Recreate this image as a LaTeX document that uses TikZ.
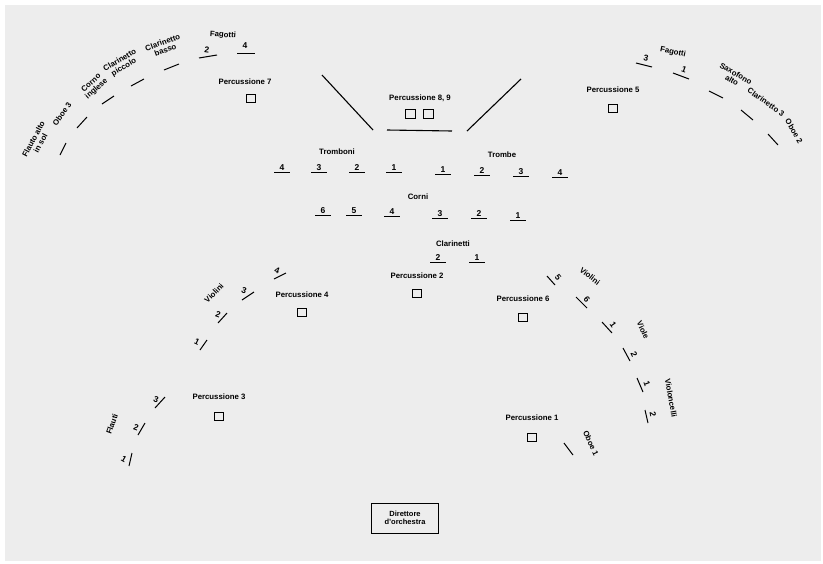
\documentclass[tikz,border=0pt]{standalone}
\usepackage{fontspec}
\setmainfont{Liberation Sans}
\begin{document}
\begin{tikzpicture}[
    x=1pt, y=-1pt,
    seat/.style={line width=1pt},
    lbl/.style={font=\fontsize{7.8}{8}\selectfont\bfseries, inner sep=0pt, align=center},
    num/.style={font=\fontsize{8.5}{9}\selectfont\bfseries, inner sep=0pt},
    perc/.style={draw, line width=0.8pt, minimum width=9pt, minimum height=8pt, inner sep=0pt},
  ]
  \useasboundingbox (0,0) rectangle (823,563);
  \fill[white] (0,0) rectangle (823,563);
  \fill[black!7] (5,5) rectangle (821,561);

  % legni a sinistra
  \node[lbl, rotate=62] (fla) at (37,141) {Flauto alto\\in sol};
  \draw[seat] (60,155) -- (66,143);
  \node[lbl, rotate=55] (ob3) at (62,114) {Oboe 3};
  \draw[seat] (77,128) -- (87,117);
  \node[lbl, rotate=42] (cin) at (94,86) {Corno\\inglese};
  \draw[seat] (102,104) -- (114,96);
  \node[lbl, rotate=30] (clp) at (122,64) {Clarinetto\\piccolo};
  \draw[seat] (131,86) -- (144,79);
  \node[lbl, rotate=20] (clb) at (164,46) {Clarinetto\\basso};
  \draw[seat] (164,70) -- (179,64);
  \node[lbl, rotate=-4] (fag) at (223,35) {Fagotti};
  \draw[seat] (199,58) -- (217,55);
  \node[num, rotate=-8] (fg2) at (207,50) {2};
  \draw[seat] (237,53) -- (255,53);
  \node[num] (fg4) at (245,46) {4};

  % legni a destra
  \node[lbl, rotate=-12] (fagd) at (673,52) {Fagotti};
  \draw[seat] (636,63) -- (652,67);
  \node[num, rotate=-12] (fg3) at (646,58) {3};
  \draw[seat] (673,73) -- (689,79);
  \node[num, rotate=-20] (fg1) at (684,70) {1};
  \node[lbl, rotate=-30] (sax) at (734,77) {Saxofono\\alto};
  \draw[seat] (709,91) -- (723,98);
  \node[lbl, rotate=-35] (cl3) at (766,102) {Clarinetto 3};
  \draw[seat] (741,110) -- (753,120);
  \node[lbl, rotate=-60] (ob2) at (794,131) {Oboe 2};
  \draw[seat] (768,134) -- (778,145);

  % percussioni
  \node[lbl] (p7l) at (245,82) {Percussione 7};
  \node[perc] (p7) at (251,98) {};
  \node[lbl] (p89l) at (420,98) {Percussione 8, 9};
  \node[perc, minimum width=10pt, minimum height=9pt] (p8) at (410,114) {};
  \node[perc, minimum width=10pt, minimum height=9pt] (p9) at (428,114) {};
  \draw[line width=1.1pt] (322,75) -- (373,130);
  \draw[line width=1.1pt] (521,79) -- (467,131);
  \draw[line width=1.1pt] (387,130) -- (452,131);
  \node[lbl] (p5l) at (613,90) {Percussione 5};
  \node[perc] (p5) at (613,108) {};
  \node[lbl] (p4l) at (302,295) {Percussione 4};
  \node[perc] (p4) at (302,312) {};
  \node[lbl] (p2l) at (417,276) {Percussione 2};
  \node[perc] (p2) at (417,293) {};
  \node[lbl] (p6l) at (523,299) {Percussione 6};
  \node[perc] (p6) at (523,317) {};
  \node[lbl] (p3l) at (219,397) {Percussione 3};
  \node[perc] (p3) at (219,416) {};
  \node[lbl] (p1l) at (532,418) {Percussione 1};
  \node[perc] (p1) at (532,437) {};

  % ottoni
  \node[lbl] (tbl) at (337,152) {Tromboni};
  \foreach \n/\x in {4/282,3/319,2/357,1/394}
    \draw[seat] (\x-8,172) -- (\x+8,172) node[num, midway, above=1.2pt] (tb\n) {\n};
  \node[lbl] (trl) at (502,155) {Trombe};
  \foreach \n/\x/\y in {1/443/174,2/482/175,3/521/176,4/560/177}
    \draw[seat] (\x-8,\y) -- (\x+8,\y) node[num, midway, above=1.2pt] (tr\n) {\n};
  \node[lbl] (col) at (418,197) {Corni};
  \foreach \n/\x/\y in {6/323/215,5/354/215,4/392/216,3/440/218,2/479/218,1/518/220}
    \draw[seat] (\x-8,\y) -- (\x+8,\y) node[num, midway, above=1.2pt] (co\n) {\n};
  \node[lbl] (cll) at (453,244) {Clarinetti};
  \foreach \n/\x in {2/438,1/477}
    \draw[seat] (\x-8,262) -- (\x+8,262) node[num, midway, above=1.2pt] (cl\n) {\n};

  % archi a sinistra
  \node[lbl, rotate=45] (vil) at (214,293) {Violini};
  \draw[seat] (274,279) -- (286,273);
  \node[num, rotate=-20] (vi4) at (277,271) {4};
  \draw[seat] (242,300) -- (254,292);
  \node[num, rotate=-20] (vi3) at (244,291) {3};
  \draw[seat] (218,323) -- (227,313);
  \node[num, rotate=-20] (vi2) at (218,315) {2};
  \draw[seat] (200,350) -- (207,340);
  \node[num, rotate=-25] (vi1) at (197,342) {1};
  \node[lbl, rotate=70] (fll) at (112,424) {Flauti};
  \draw[seat] (155,408) -- (165,397);
  \node[num, rotate=-20] (fl3) at (156,400) {3};
  \draw[seat] (138,435) -- (145,423);
  \node[num, rotate=-20] (fl2) at (136,428) {2};
  \draw[seat] (129,466) -- (132,453);
  \node[num, rotate=-30] (fl1) at (124,459) {1};

  % archi a destra
  \node[lbl, rotate=-38] (vir) at (590,276) {Violini};
  \draw[seat] (547,276) -- (555,285);
  \node[num, rotate=-50] (vi5) at (558,277) {5};
  \draw[seat] (576,297) -- (587,308);
  \node[num, rotate=-50] (vi6) at (587,299) {6};
  \node[lbl, rotate=-65] (vll) at (643,330) {Viole};
  \draw[seat] (602,322) -- (612,333);
  \node[num, rotate=-55] (vl1) at (613,325) {1};
  \draw[seat] (623,348) -- (630,361);
  \node[num, rotate=-65] (vl2) at (634,354) {2};
  \node[lbl, rotate=-80] (vcl) at (671,398) {Violoncelli};
  \draw[seat] (637,378) -- (643,392);
  \node[num, rotate=-70] (vc1) at (647,384) {1};
  \draw[seat] (645,410) -- (648,423);
  \node[num, rotate=-80] (vc2) at (653,414) {2};
  \node[lbl, rotate=-65] (ob1) at (591,443) {Oboe 1};
  \draw[seat] (564,443) -- (573,455);

  % direttore
  \node[draw, line width=0.9pt, minimum width=67pt, minimum height=30pt, lbl,
        font=\fontsize{7.5}{8.5}\selectfont\bfseries] (dir) at (405,518) {Direttore\\d'orchestra};
\end{tikzpicture}
\end{document}
